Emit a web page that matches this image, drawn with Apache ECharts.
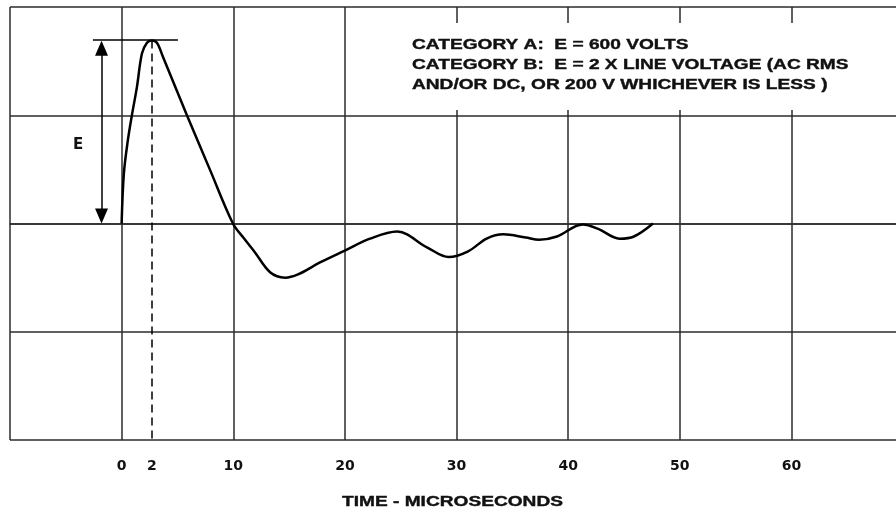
<!DOCTYPE html>
<html lang="en">
<head>
    <meta charset="UTF-8">
    <title>Surge waveform</title>
    <style>
        html, body { margin: 0; padding: 0; background: #fff; }
    </style>
</head>
<body>
    <div id="main" style="width: 896px;height:514px;"></div>
    <script src="https://cdn.jsdelivr.net/npm/echarts@6/dist/echarts.min.js"></script>
    <script>
    // waveform: time (microseconds) / voltage in units of the grid
    var timeUs = [0, 0.2, 0.56, 0.92, 1.37, 1.82, 2.27, 2.7, 3.16, 3.7, 5.85, 7.9, 9.97,
                  10.9, 11.9, 13.3, 14.64, 15.8, 17.77, 20.0, 22.25, 24.7, 27.35,
                  29.3, 31.0, 32.7, 34.2, 36.2, 37.4, 39.0, 41.3, 42.7, 44.6, 45.9, 47.6];
    var volts  = [0, 0.46, 0.77, 1.0, 1.26, 1.57, 1.67, 1.69, 1.67, 1.54, 1.0, 0.5, 0.0,
                  -0.13, -0.26, -0.45, -0.5, -0.47, -0.36, -0.25, -0.14, -0.075, -0.22,
                  -0.31, -0.26, -0.14, -0.10, -0.13, -0.15, -0.12, -0.01, -0.05, -0.14, -0.12, 0.0];

    // x tick labels (the "2" sits where the peak is drawn)
    var tickPos  = [0, 2.7, 10, 20, 30, 40, 50, 60];
    var tickText = ['0', '2', '10', '20', '30', '40', '50', '60'];

    var peakT = 2.7;
    var peakV = 1.69;
    var arrowT = -1.8;

    var noteText = 'CATEGORY A:  E = 600 VOLTS\nCATEGORY B:  E = 2 X LINE VOLTAGE (AC RMS\nAND/OR DC, OR 200 V WHICHEVER IS LESS )';
    var axisTitle = 'TIME - MICROSECONDS';

    var gridColor = '#2b2b2b';
    var textFont = 'bold 15px "Liberation Sans", Arial, sans-serif';
    var wide = 1.275; // the scan is stretched sideways

    var data = [];
    for (var i = 0; i < timeUs.length; i++) {
        data.push([timeUs[i], volts[i]]);
    }

    var myChart = echarts.init(document.getElementById('main'));
    var option = {
        animation: false,
        graphic: [
            {
                type: 'rect',
                shape: { x: 400, y: 23, width: 500, height: 87 },
                style: { fill: '#fff' },
                z: 50
            },
            {
                type: 'text',
                x: 412,
                y: 35,
                scaleX: wide,
                z: 51,
                style: {
                    text: noteText,
                    font: textFont,
                    fill: '#111',
                    stroke: '#111',
                    lineWidth: 0.4,
                    lineHeight: 20
                }
            },
            {
                type: 'text',
                x: 342,
                y: 502,
                scaleX: wide,
                z: 51,
                style: {
                    text: axisTitle,
                    font: textFont,
                    fill: '#111',
                    stroke: '#111',
                    lineWidth: 0.4,
                    verticalAlign: 'middle'
                }
            }
        ],
        grid: {
            left: 10,
            top: 7,
            right: -7,
            height: 433,
            containLabel: false,
            outerBoundsMode: 'none',
            show: false
        },
        xAxis: {
            type: 'value',
            min: -10,
            max: 70,
            interval: 10,
            axisLine: { show: true, lineStyle: { color: gridColor, width: 1.5 } },
            axisTick: { show: false },
            axisLabel: {
                customValues: tickPos,
                margin: 19,
                fontFamily: 'DejaVu Sans',
                fontSize: 14,
                fontWeight: 'bold',
                color: '#111',
                formatter: function (v) {
                    for (var k = 0; k < tickPos.length; k++) {
                        if (Math.abs(tickPos[k] - v) < 1e-6) return tickText[k];
                    }
                    return '';
                }
            },
            splitLine: { show: true, lineStyle: { color: gridColor, width: 1.5 } }
        },
        yAxis: {
            type: 'value',
            min: -2,
            max: 2,
            interval: 1,
            axisLine: { show: false },
            axisTick: { show: false },
            axisLabel: { show: false },
            splitLine: { show: true, lineStyle: { color: gridColor, width: 1.5 } }
        },
        series: [
            {
                type: 'line',
                data: data,
                smooth: 0.35,
                showSymbol: false,
                z: 3,
                lineStyle: { color: '#000', width: 2.5 },
                markLine: {
                    silent: true,
                    animation: false,
                    label: { show: false },
                    lineStyle: { color: '#000', width: 1.5, type: 'solid' },
                    symbol: ['none', 'none'],
                    data: [
                        [
                            { coord: [arrowT, 0.07], symbol: 'triangle', symbolSize: [13, 15], symbolRotate: 180 },
                            { coord: [arrowT, peakV - 0.07], symbol: 'triangle', symbolSize: [13, 15] }
                        ],
                        [
                            { coord: [-2.57, 1.695] },
                            { coord: [5.04, 1.695] }
                        ],
                        [
                            { coord: [peakT, peakV], lineStyle: { type: [8, 5], width: 1.5 } },
                            { coord: [peakT, -2] }
                        ]
                    ]
                },
                markPoint: {
                    silent: true,
                    symbolSize: 0,
                    data: [
                        {
                            coord: [-3.9, 0.72],
                            label: {
                                show: true,
                                formatter: 'E',
                                fontFamily: 'DejaVu Sans',
                                fontSize: 15,
                                fontWeight: 'bold',
                                color: '#111'
                            }
                        }
                    ]
                }
            }
        ]
    };
    myChart.setOption(option);
    </script>
</body>
</html>
